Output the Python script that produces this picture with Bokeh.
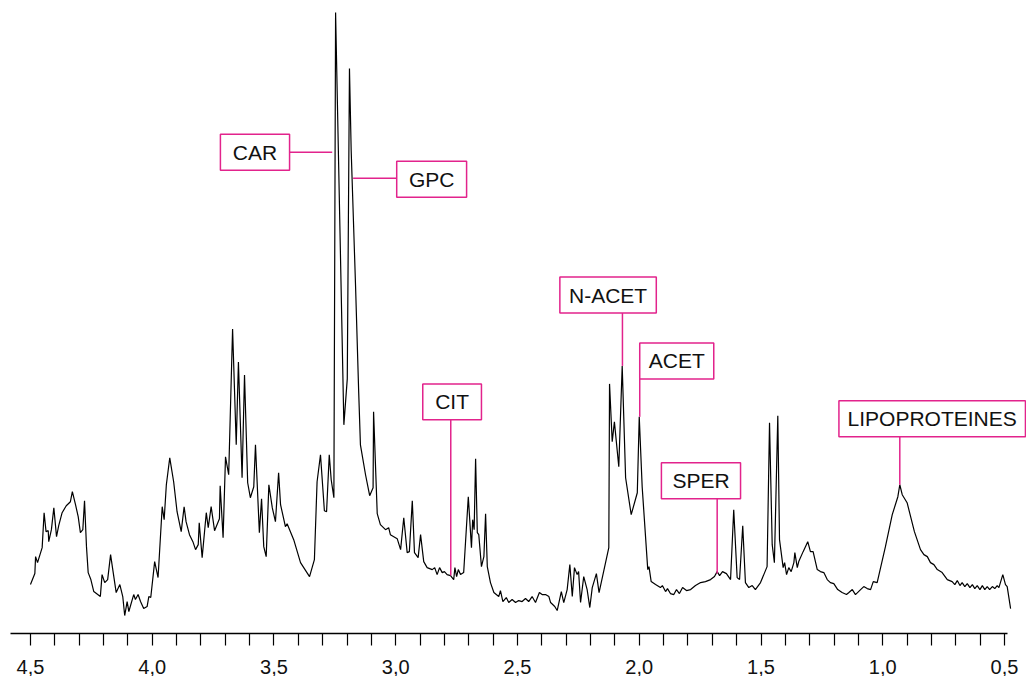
from bokeh.plotting import figure
from bokeh.models import Range1d, FixedTicker, CustomJSTickFormatter
from bokeh.core.properties import value
from bokeh.embed import file_html
from bokeh.resources import INLINE

# --- spectrum: chemical shift (ppm) and intensity (a.u.) ---
ppm = [4.500, 4.482, 4.479, 4.471, 4.452, 4.444, 4.436, 4.427, 4.425, 4.414,
       4.404, 4.393, 4.384, 4.370, 4.353, 4.336, 4.328, 4.315, 4.304, 4.295,
       4.285, 4.278, 4.270, 4.263, 4.252, 4.240, 4.213, 4.206, 4.195, 4.183,
       4.171, 4.162, 4.148, 4.133, 4.121, 4.113, 4.103, 4.096, 4.082, 4.076,
       4.069, 4.058, 4.048, 4.035, 4.021, 4.014, 4.006, 3.990, 3.976, 3.959,
       3.951, 3.942, 3.928, 3.912, 3.898, 3.881, 3.869, 3.861, 3.847, 3.833,
       3.822, 3.811, 3.807, 3.795, 3.778, 3.770, 3.758, 3.744, 3.724, 3.721,
       3.709, 3.699, 3.686, 3.670, 3.655, 3.646, 3.631, 3.621, 3.608, 3.597,
       3.583, 3.576, 3.560, 3.551, 3.542, 3.532, 3.521, 3.507, 3.494, 3.481,
       3.473, 3.453, 3.446, 3.419, 3.391, 3.354, 3.334, 3.323, 3.309, 3.293,
       3.284, 3.273, 3.265, 3.254, 3.247, 3.213, 3.199, 3.190, 3.183, 3.165,
       3.152, 3.145, 3.124, 3.107, 3.093, 3.091, 3.076, 3.063, 3.042, 3.029,
       3.022, 2.994, 2.980, 2.967, 2.953, 2.944, 2.932, 2.923, 2.908, 2.898,
       2.885, 2.871, 2.850, 2.840, 2.830, 2.820, 2.809, 2.800, 2.789, 2.775,
       2.762, 2.757, 2.750, 2.743, 2.734, 2.721, 2.702, 2.689, 2.684, 2.678,
       2.672, 2.665, 2.659, 2.648, 2.638, 2.631, 2.624, 2.611, 2.597, 2.577,
       2.570, 2.560, 2.546, 2.536, 2.522, 2.508, 2.495, 2.481, 2.467, 2.454,
       2.440, 2.426, 2.410, 2.399, 2.385, 2.371, 2.364, 2.347, 2.337, 2.320,
       2.310, 2.296, 2.285, 2.275, 2.266, 2.255, 2.249, 2.241, 2.228, 2.214,
       2.203, 2.193, 2.176, 2.165, 2.125, 2.122, 2.111, 2.102, 2.084, 2.070,
       2.056, 2.033, 2.008, 2.000, 1.988, 1.965, 1.960, 1.951, 1.933, 1.913,
       1.905, 1.892, 1.884, 1.872, 1.858, 1.847, 1.835, 1.822, 1.806, 1.789,
       1.769, 1.748, 1.728, 1.707, 1.691, 1.680, 1.670, 1.658, 1.642, 1.625,
       1.612, 1.598, 1.588, 1.575, 1.564, 1.550, 1.536, 1.523, 1.502, 1.475,
       1.465, 1.454, 1.445, 1.431, 1.424, 1.409, 1.403, 1.395, 1.386, 1.376,
       1.365, 1.361, 1.351, 1.345, 1.327, 1.308, 1.297, 1.286, 1.269, 1.256,
       1.242, 1.228, 1.215, 1.201, 1.185, 1.167, 1.149, 1.139, 1.125, 1.112,
       1.091, 1.078, 1.064, 1.050, 1.039, 1.023, 0.989, 0.961, 0.938, 0.930,
       0.920, 0.900, 0.870, 0.845, 0.831, 0.817, 0.804, 0.790, 0.776, 0.756,
       0.735, 0.715, 0.704, 0.694, 0.683, 0.674, 0.663, 0.653, 0.642, 0.632,
       0.622, 0.612, 0.601, 0.591, 0.581, 0.571, 0.561, 0.550, 0.540, 0.530,
       0.523, 0.507, 0.496, 0.489, 0.475]

intensity = [49, 60, 77, 71, 86, 121, 102, 103, 92, 104,
             126, 97, 108, 121, 128, 132, 142, 129, 117, 101,
             104, 133, 87, 61, 54, 42, 37, 59, 51, 54,
             79, 64, 41, 49, 37, 18, 32, 22, 34, 39,
             34, 39, 32, 25, 27, 37, 36, 72, 56, 127,
             114, 149, 176, 152, 122, 102, 127, 112, 99, 92,
             84, 89, 111, 76, 121, 106, 127, 103, 115, 148,
             96, 177, 159, 305, 189, 272, 156, 259, 151, 136,
             147, 189, 101, 135, 87, 77, 149, 126, 112, 161,
             129, 107, 110, 94, 71, 57, 74, 152, 179, 123,
             122, 179, 154, 136, 622, 209, 255, 566, 484, 348,
             241, 189, 159, 138, 146, 222, 120, 109, 104, 106,
             99, 95, 84, 116, 81, 82, 133, 81, 76, 99,
             72, 66, 64, 66, 59, 66, 61, 62, 59, 58,
             54, 66, 57, 64, 59, 61, 137, 86, 114, 104,
             175, 101, 99, 67, 77, 120, 67, 51, 41, 37,
             43, 32, 36, 31, 34, 31, 33, 32, 35, 32,
             37, 31, 41, 39, 39, 37, 31, 27, 23, 42,
             31, 44, 69, 37, 66, 59, 62, 31, 57, 44,
             26, 46, 60, 41, 86, 250, 192, 212, 167, 268,
             156, 119, 141, 217, 147, 64, 67, 52, 49, 46,
             48, 42, 45, 40, 39, 44, 40, 46, 43, 44,
             48, 51, 52, 54, 57, 62, 58, 62, 60, 54,
             124, 56, 54, 108, 51, 46, 48, 44, 51, 67,
             211, 89, 71, 218, 94, 66, 71, 59, 66, 62,
             71, 81, 66, 72, 82, 92, 82, 82, 64, 62,
             61, 54, 51, 50, 44, 41, 39, 41, 44, 39,
             44, 47, 45, 44, 52, 51, 87, 119, 137, 149,
             139, 131, 102, 84, 79, 77, 71, 69, 64, 61,
             54, 52, 49, 53, 48, 51, 47, 50, 46, 49,
             45, 48, 44, 48, 44, 47, 44, 47, 45, 48,
             46, 59, 49, 47, 25]

# --- peak assignments ---
labels = ["CAR", "GPC", "CIT", "N-ACET", "ACET", "SPER", "LIPOPROTEINES"]

# annotation layout (box extents and leader lines, in data units)
ann = [
    dict(box=(3.720, 3.436, 464, 500), lead=((3.436, 482), (3.261, 482))),
    dict(box=(2.996, 2.709, 437, 473), lead=((3.175, 456), (2.996, 456))),
    dict(box=(2.889, 2.648, 214, 250), lead=((2.774, 214), (2.774, 58))),
    dict(box=(2.326, 1.930, 321, 357), lead=((2.069, 321), (2.069, 268))),
    dict(box=(1.998, 1.694, 255, 291), lead=((1.998, 255), (1.998, 217))),
    dict(box=(1.909, 1.584, 135, 171), lead=((1.680, 135), (1.680, 60))),
    dict(box=(1.180, 0.414, 197, 233), lead=((0.930, 197), (0.930, 149))),
]

PINK = "#E2238C"
FONT = "Liberation Sans"

p = figure(width=1026, height=676, output_backend="svg", toolbar_location=None,
           x_range=Range1d(4.582, 0.4097), y_range=Range1d(0, 626),
           y_axis_location=None, min_border_left=10, min_border_right=0,
           min_border_top=8, min_border_bottom=42)
p.outline_line_color = None
p.xgrid.visible = False
p.ygrid.visible = False
p.background_fill_color = "white"
p.border_fill_color = "white"

p.line(ppm, intensity, line_color="black", line_width=1.2)

# annotations
lefts, rights, bottoms, tops, cx, cy = [], [], [], [], [], []
for a in ann:
    l, r, b, t = a["box"]
    lefts.append(l); rights.append(r); bottoms.append(b); tops.append(t)
    cx.append((l + r) / 2); cy.append((b + t) / 2)
    (x0, y0), (x1, y1) = a["lead"]
    p.line([x0, x1], [y0, y1], line_color=PINK, line_width=1.5)

p.quad(left=lefts, right=rights, bottom=bottoms, top=tops,
       fill_color="white", line_color=PINK, line_width=1.5)
p.text(x=cx, y=cy, text=labels, text_align="center", text_baseline="middle",
       text_font=value(FONT), text_font_size="21px", text_color="#111111")

ax = p.xaxis[0]
ax.ticker = FixedTicker(ticks=[round(0.5 + 0.1 * i, 1) for i in range(41)])
ax.formatter = CustomJSTickFormatter(code="""
const r = Math.round(tick * 10);
return (r % 5 === 0) ? (r / 10).toFixed(1).replace('.', ',') : '';
""")
ax.bounds = (0.488, 4.582)
ax.axis_line_width = 1.5
ax.axis_line_color = "black"
ax.major_tick_out = 12
ax.major_tick_in = 0
ax.major_tick_line_color = "black"
ax.major_tick_line_width = 1.2
ax.minor_tick_out = 0
ax.minor_tick_in = 0
ax.major_label_standoff = 14
ax.major_label_text_font = FONT
ax.major_label_text_font_size = "20px"
ax.major_label_text_color = "#111111"

open("out.html", "w").write(file_html(p, INLINE))
